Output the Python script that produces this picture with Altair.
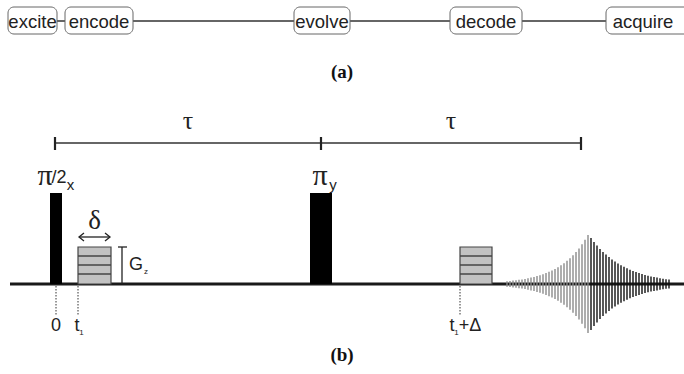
import altair as alt
import pandas as pd

W, H = 684, 374

# ---- top row: stages of the experiment (layout units = px) ----
stage_names = ["excite", "encode", "evolve", "decode", "acquire"]
stage_left = [8, 65, 294, 450, 606]
stage_right = [57, 133, 350, 522, 692]
stage_top, stage_bottom = 7, 34

# ---- pulse sequence timeline ----
tau_marks = [55, 321, 581]              # 0, tau, 2*tau
tau_y = 143
baseline_y = 284
rf_left = [50, 310]                      # pi/2_x and pi_y pulses
rf_right = [62, 332]
rf_top = 193
grad_left = [78, 460]                    # gradient lobes
grad_right = [111, 492]
grad_top = 247
grad_steps = [256, 265, 274]
time_marks = [56, 78, 460]               # 0, t1, t1+Delta

# echo amplitudes (px) sampled every 3 px: rise to the echo top, then decay
echo_start = 507
echo_rise = [2.7, 3.0, 3.4, 3.7, 4.2, 4.6, 5.1, 5.7, 6.4, 7.1, 7.9, 8.8, 9.8, 10.9,
             12.2, 13.6, 15.1, 16.8, 18.7, 20.8, 23.2, 25.8, 28.8, 32.0, 35.6, 39.7, 44.2]
echo_peak = 49
echo_decay = [46, 42, 38.5, 35, 32, 29.5, 27, 24.5, 22.5, 20.5, 18.8, 17.2, 15.7, 14.3,
              13, 12, 11, 10, 9.1, 8.3, 7.6, 7, 6.4, 5.8, 5.3, 4.8, 4.4]

SANS = "Liberation Sans Narrow, Liberation Sans"
xs = alt.Scale(domain=[0, W], range=[0, W], nice=False, zero=False)
ys = alt.Scale(domain=[0, H], range=[0, H], nice=False, zero=False)


def X(f):
    return alt.X(f, type="quantitative", scale=xs, axis=None)


def Y(f):
    return alt.Y(f, type="quantitative", scale=ys, axis=None)


def X2(f):
    return alt.X2(f)


def Y2(f):
    return alt.Y2(f)


def label(x, y, text, size, font=SANS, **kw):
    return (
        alt.Chart(pd.DataFrame({"x": x, "t": text}))
        .mark_text(font=font, fontSize=size, color="#222222", baseline="middle", **kw)
        .encode(x=X("x"), y=alt.value(y), text="t")
    )


layers = []

# connector through the stage boxes
layers.append(
    alt.Chart(pd.DataFrame({"x": [stage_left[0]], "x2": [stage_right[-1]], "y": [21]}))
    .mark_rule(color="#333333", strokeWidth=1.3)
    .encode(x=X("x"), x2=X2("x2"), y=Y("y"))
)

stages = pd.DataFrame({"name": stage_names, "l": stage_left, "r": stage_right,
                       "t": stage_top, "b": stage_bottom})
stages["c"] = (stages["l"] + stages["r"]) / 2
stages.loc[stages["name"] == "acquire", "c"] = 643
layers.append(
    alt.Chart(stages).mark_rect(fill="white", stroke="#666666", strokeWidth=1, cornerRadius=6)
    .encode(x=X("l"), x2=X2("r"), y=Y("t"), y2=Y2("b"))
)
layers.append(
    alt.Chart(stages).mark_text(font=SANS, fontSize=18.5, color="#222222",
                                baseline="middle", align="center", dy=1)
    .encode(x=X("c"), y=alt.value(21), text="name")
)

# panel labels
panel = pd.DataFrame({"x": [342, 342], "y": [72, 355], "t": ["(a)", "(b)"]})
layers.append(
    alt.Chart(panel).mark_text(font="Liberation Serif", fontSize=19, fontWeight="bold",
                               color="#111111", baseline="middle")
    .encode(x=X("x"), y=Y("y"), text="t")
)

# tau bracket
layers.append(
    alt.Chart(pd.DataFrame({"x": [tau_marks[0]], "x2": [tau_marks[-1]], "y": [tau_y]}))
    .mark_rule(color="#333333", strokeWidth=1.5)
    .encode(x=X("x"), x2=X2("x2"), y=Y("y"))
)
layers.append(
    alt.Chart(pd.DataFrame({"x": tau_marks, "y": tau_y - 6, "y2": tau_y + 7}))
    .mark_rule(color="#222222", strokeWidth=2.2)
    .encode(x=X("x"), y=Y("y"), y2=Y2("y2"))
)
layers.append(label([(tau_marks[0] + tau_marks[1]) / 2, (tau_marks[1] + tau_marks[2]) / 2],
                    121, ["\u03c4", "\u03c4"], 26, font="Liberation Serif"))

# time markers below the baseline
layers.append(
    alt.Chart(pd.DataFrame({"x": time_marks, "y": baseline_y + 2, "y2": 316}))
    .mark_rule(color="#333333", strokeWidth=1, strokeDash=[1.5, 1.5])
    .encode(x=X("x"), y=Y("y"), y2=Y2("y2"))
)
layers.append(label([56, 77, 452, 470], 326, ["0", "t", "t", "+\u0394"], 18))
layers.append(label([81.5, 456.5], 333, ["1", "1"], 8))

# baseline
layers.append(
    alt.Chart(pd.DataFrame({"x": [10], "x2": [W], "y": [baseline_y]}))
    .mark_rule(color="#1a1a1a", strokeWidth=3)
    .encode(x=X("x"), x2=X2("x2"), y=Y("y"))
)

# gradient lobes with their amplitude steps
grads = pd.DataFrame({"l": grad_left, "r": grad_right, "t": grad_top, "b": baseline_y})
layers.append(
    alt.Chart(grads).mark_rect(fill="#c2c2c2", stroke="#444444", strokeWidth=1.2)
    .encode(x=X("l"), x2=X2("r"), y=Y("t"), y2=Y2("b"))
)
steps = pd.DataFrame([{"l": l, "r": r, "y": s} for l, r in zip(grad_left, grad_right) for s in grad_steps])
layers.append(
    alt.Chart(steps).mark_rule(color="#444444", strokeWidth=1.5)
    .encode(x=X("l"), x2=X2("r"), y=Y("y"))
)

# rf pulses
rf = pd.DataFrame({"l": rf_left, "r": rf_right, "t": rf_top, "b": baseline_y})
layers.append(
    alt.Chart(rf).mark_rect(fill="black", stroke=None)
    .encode(x=X("l"), x2=X2("r"), y=Y("t"), y2=Y2("b"))
)

# echo signal
n_rise = len(echo_rise)
echo_amp = echo_rise + [echo_peak] + echo_decay
echo = pd.DataFrame({"x": [echo_start + 3 * i for i in range(len(echo_amp))], "a": echo_amp})
echo["side"] = ["rise" if i <= n_rise else "decay" for i in range(len(echo))]
echo["y"] = baseline_y - echo["a"]
echo["y2"] = baseline_y + echo["a"]
layers.append(
    alt.Chart(echo).mark_rule(strokeWidth=1.4)
    .encode(x=X("x"), y=Y("y"), y2=Y2("y2"),
            color=alt.Color("side:N", scale=alt.Scale(domain=["rise", "decay"],
                                                      range=["#8a8a8a", "#111111"]), legend=None))
)

# G_z amplitude marker
layers.append(
    alt.Chart(pd.DataFrame({"x": [122], "y": [grad_top], "y2": [baseline_y]}))
    .mark_rule(color="#222222", strokeWidth=1.3)
    .encode(x=X("x"), y=Y("y"), y2=Y2("y2"))
)
layers.append(
    alt.Chart(pd.DataFrame({"x": [118], "x2": [127], "y": [grad_top]}))
    .mark_rule(color="#222222", strokeWidth=1.3)
    .encode(x=X("x"), x2=X2("x2"), y=Y("y"))
)
layers.append(label([136], 265, ["G"], 18))
layers.append(label([146], 272, ["z"], 8))

# delta: gradient duration with double arrow
layers.append(label([94.5], 221, ["\u03b4"], 27, font="Liberation Serif"))
layers.append(
    alt.Chart(pd.DataFrame({"x": [79], "x2": [110], "y": [237]}))
    .mark_rule(color="#222222", strokeWidth=1.3)
    .encode(x=X("x"), x2=X2("x2"), y=Y("y"))
)
heads = pd.DataFrame({
    "g": ["l", "l", "l", "r", "r", "r"],
    "o": [0, 1, 2, 0, 1, 2],
    "x": [84, 79, 84, 105, 110, 105],
    "y": [233, 237, 241, 233, 237, 241],
})
layers.append(
    alt.Chart(heads).mark_line(color="#222222", strokeWidth=1.3)
    .encode(x=X("x"), y=Y("y"), detail="g:N", order="o:Q")
)

# pulse labels
layers.append(label([45, 320], 176, ["\u03c0", "\u03c0"], 30, font="Liberation Serif"))
layers.append(label([59], 178, ["/2"], 18))
layers.append(label([70.5, 333], 185, ["x", "y"], 15))

chart = (
    alt.layer(*layers)
    .properties(width=W, height=H, padding=0, autosize="none", background="white")
    .configure_view(stroke=None)
)

chart.save("out.html", embed_options={"renderer": "svg", "actions": False})
